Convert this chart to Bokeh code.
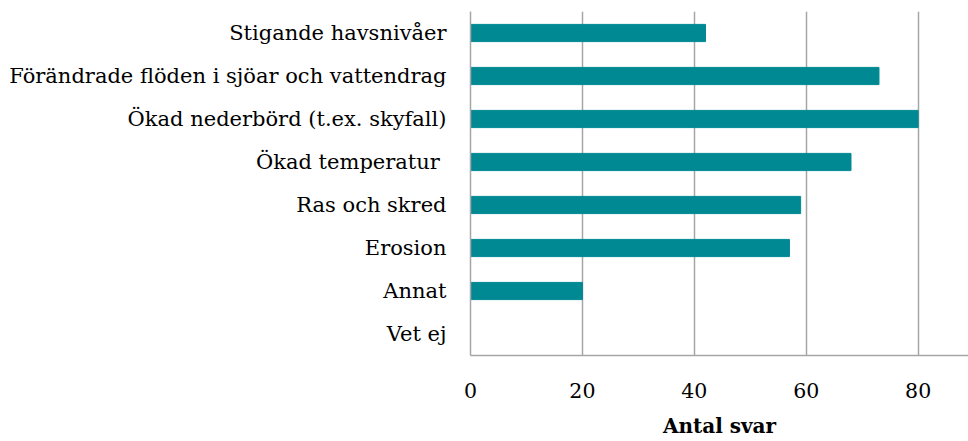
from bokeh.plotting import figure
from bokeh.models import FactorRange, Range1d, FixedTicker
from bokeh.embed import file_html
from bokeh.resources import INLINE

categories = [
    "Stigande havsnivåer",
    "Förändrade flöden i sjöar och vattendrag",
    "Ökad nederbörd (t.ex. skyfall)",
    "Ökad temperatur ",
    "Ras och skred",
    "Erosion",
    "Annat",
    "Vet ej",
]
values = [42, 73, 80, 68, 59, 57, 20, 0]
x_ticks = [0, 20, 40, 60, 80]
x_title = "Antal svar"

FONT = "DejaVu Serif"
GRID = "#a6a6a6"
BAR = "#008993"

p = figure(
    width=968, height=441,
    y_range=FactorRange(factors=list(reversed(categories))),
    x_range=Range1d(0, 89),
    output_backend="svg", toolbar_location=None,
    min_border_left=470, min_border_right=0, min_border_top=11, min_border_bottom=86,
)
p.hbar(y=categories, right=values, left=0, height=0.4, color=BAR)

p.outline_line_color = None
p.ygrid.grid_line_color = None
p.xgrid.grid_line_color = GRID
p.xgrid.grid_line_width = 1.5
p.xaxis.ticker = FixedTicker(ticks=x_ticks)

for ax in (p.xaxis[0], p.yaxis[0]):
    ax.axis_line_color = GRID
    ax.axis_line_width = 1.5
    ax.major_tick_line_color = None
    ax.minor_tick_line_color = None
    ax.major_tick_out = 0
    ax.major_tick_in = 0
    ax.major_label_text_font = FONT
    ax.major_label_text_font_size = "20.5px"
    ax.major_label_text_color = "#000000"

p.yaxis.major_label_text_font_size = "21px"
p.yaxis.major_label_standoff = 24
p.xaxis.major_label_standoff = 27
p.xaxis.axis_label = x_title
p.xaxis.axis_label_text_font = FONT
p.xaxis.axis_label_text_font_size = "20px"
p.xaxis.axis_label_text_font_style = "bold"
p.xaxis.axis_label_text_color = "#000000"
p.xaxis.axis_label_standoff = 13

open("out.html", "w").write(file_html(p, INLINE))
